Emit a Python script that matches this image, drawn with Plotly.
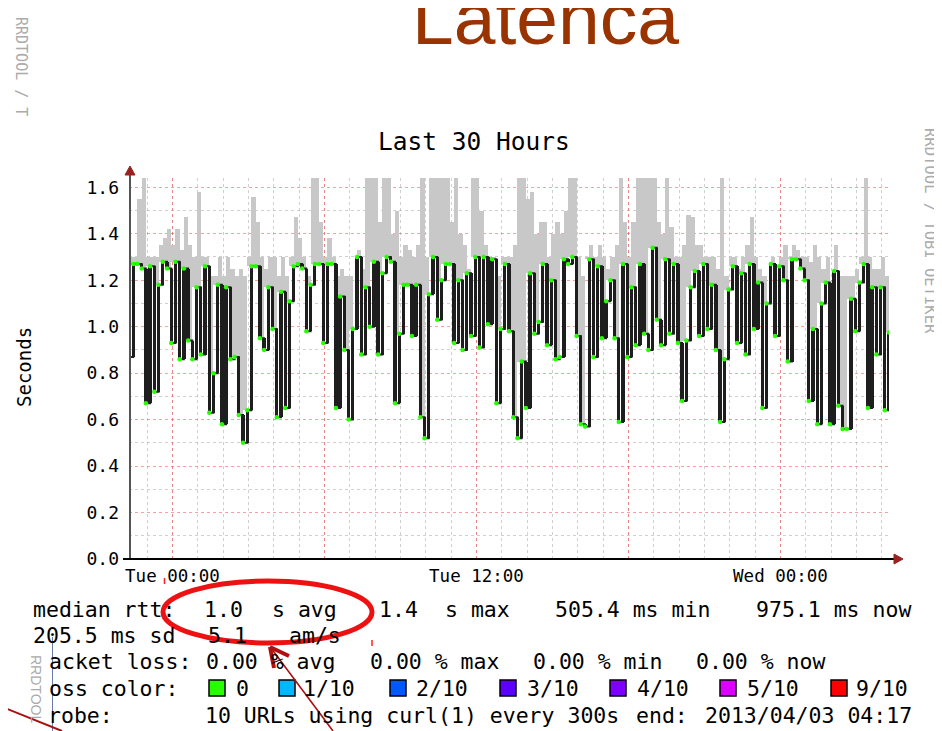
import datetime
import plotly.graph_objects as go

# ---------------- data ----------------
start_time = "2013-04-01 22:17"
step_minutes = 10

median_rtt = [
    0.87, 1.27, 1.27, 1.25, 0.67, 1.26, 0.72, 1.18, 1.28, 1.25,
    0.93, 1.28, 0.86, 1.25, 0.94, 0.86, 1.17, 0.88, 1.26, 0.63,
    0.80, 1.18, 0.58, 1.17, 0.86, 0.87, 0.62, 0.50, 0.64, 1.26,
    1.26, 0.95, 0.90, 1.17, 0.99, 0.61, 1.15, 0.65, 1.11, 1.26,
    1.27, 1.25, 0.98, 1.18, 1.27, 1.27, 0.93, 1.27, 1.27, 0.65,
    1.13, 0.90, 0.60, 0.99, 1.30, 0.88, 1.17, 1.00, 1.28, 0.88,
    1.23, 1.30, 1.28, 0.67, 0.97, 1.18, 1.18, 0.96, 1.18, 0.61,
    0.52, 1.14, 1.30, 1.03, 1.20, 1.27, 1.27, 0.93, 1.20, 0.90,
    1.23, 0.96, 1.30, 0.91, 1.30, 1.01, 1.29, 0.67, 0.99, 1.27,
    0.98, 0.61, 0.52, 0.85, 0.65, 1.23, 0.97, 1.02, 1.27, 0.92,
    1.20, 0.86, 0.87, 1.29, 1.27, 1.30, 0.96, 0.58, 0.57, 1.29,
    0.87, 1.26, 0.95, 1.11, 1.20, 0.95, 0.59, 1.27, 0.87, 1.17,
    0.92, 1.27, 0.97, 0.90, 1.34, 1.03, 0.92, 1.29, 0.97, 1.27,
    0.93, 0.68, 0.94, 1.17, 1.24, 0.96, 1.27, 0.99, 1.18, 0.90,
    0.59, 0.86, 1.16, 1.26, 0.93, 1.23, 0.88, 1.27, 0.99, 1.19,
    0.65, 1.10, 1.27, 0.96, 1.26, 1.20, 0.85, 1.29, 1.29, 1.25,
    1.20, 0.68, 0.99, 0.58, 1.10, 1.19, 0.58, 1.24, 0.66, 0.56,
    0.56, 1.12, 0.98, 1.19, 1.27, 0.65, 1.17, 0.88, 1.17, 0.64,
    0.975,
]

smoke_max = [
    1.30, 1.30, 1.55, 1.64, 1.30, 1.30, 1.30, 1.35, 1.38, 1.42,
    1.35, 1.42, 1.33, 1.47, 1.35, 1.30, 1.58, 1.30, 1.30, 1.22,
    1.22, 1.30, 1.22, 1.30, 1.25, 1.22, 1.25, 1.22, 1.30, 1.56,
    1.45, 1.30, 1.25, 1.30, 1.30, 1.22, 1.30, 1.22, 1.30, 1.47,
    1.38, 1.30, 1.22, 1.64, 1.64, 1.45, 1.30, 1.38, 1.30, 1.22,
    1.25, 1.22, 1.22, 1.22, 1.33, 1.25, 1.64, 1.64, 1.64, 1.45,
    1.64, 1.64, 1.40, 1.50, 1.30, 1.35, 1.33, 1.30, 1.35, 1.64,
    1.30, 1.64, 1.64, 1.64, 1.64, 1.64, 1.45, 1.64, 1.40, 1.35,
    1.25, 1.64, 1.64, 1.50, 1.35, 1.30, 1.30, 1.22, 1.30, 1.30,
    1.30, 1.35, 1.64, 1.64, 1.55, 1.58, 1.40, 1.45, 1.45, 1.30,
    1.40, 1.45, 1.40, 1.50, 1.64, 1.64, 1.30, 1.22, 1.30, 1.35,
    1.30, 1.35, 1.30, 1.25, 1.30, 1.35, 1.64, 1.45, 1.30, 1.45,
    1.64, 1.64, 1.64, 1.64, 1.64, 1.45, 1.40, 1.64, 1.43, 1.30,
    1.30, 1.35, 1.48, 1.47, 1.35, 1.35, 1.30, 1.30, 1.30, 1.25,
    1.64, 1.22, 1.30, 1.30, 1.25, 1.30, 1.35, 1.47, 1.30, 1.25,
    1.22, 1.22, 1.30, 1.25, 1.30, 1.35, 1.30, 1.35, 1.33, 1.30,
    1.30, 1.28, 1.35, 1.30, 1.25, 1.30, 1.22, 1.35, 1.22, 1.22,
    1.22, 1.22, 1.25, 1.30, 1.64, 1.30, 1.25, 1.25, 1.30, 1.22,
    1.10,
]

x_tick_values = ["2013-04-02 00:00", "2013-04-02 06:00", "2013-04-02 12:00",
                 "2013-04-02 18:00", "2013-04-03 00:00"]
x_tick_labels = ["Tue 00:00", "", "Tue 12:00", "", "Wed 00:00"]

loss_labels = ["0", "1/10", "2/10", "3/10", "4/10", "5/10", "9/10"]
loss_colors = ["#26ff00", "#00b8ff", "#0059ff", "#5e00ff", "#7e00ff", "#dd00ff", "#ff0000"]

stats_line1 = ["median rtt:", "1.0", "s avg", "1.4", "s max", "505.4 ms min", "975.1 ms now"]
stats_line2 = ["205.5 ms sd", "5.1", "am/s"]
loss_line = ["acket loss:", "0.00 % avg", "0.00 % max", "0.00 % min", "0.00 % now"]
probe_line = ["robe:", "10 URLs using curl(1) every 300s", "end:", "2013/04/03 04:17"]

# ---------------- geometry helpers ----------------
# the page adds an 8px body margin, so the figure is 8px smaller and all
# reference pixel positions are measured in page coordinates
OFF = 8
W, H = 942 - OFF, 731 - OFF
L, R, T, B = 129, 889, 178, 559   # plot area in page pixels


def PX(x):
    return (x - L) / (R - L)


def PY(y):
    return (B - y) / (B - T)


t0 = datetime.datetime.strptime(start_time, "%Y-%m-%d %H:%M")
times = [t0 + datetime.timedelta(minutes=step_minutes * i) for i in range(len(median_rtt))]
t_end = t0 + datetime.timedelta(hours=30)
step_ms = step_minutes * 60000

# smoke starts above the higher of the two neighbouring medians
smoke_base = [max(median_rtt[i], median_rtt[min(i + 1, len(median_rtt) - 1)])
              for i in range(len(median_rtt))]
smoke_height = [max(h - b, 0) for h, b in zip(smoke_max, smoke_base)]

# vertical black strokes joining consecutive medians
jump_lo = [min(a, b) for a, b in zip(median_rtt[:-1], median_rtt[1:])]
jump_hi = [max(a, b) for a, b in zip(median_rtt[:-1], median_rtt[1:])]
jump_len = [h - l for h, l in zip(jump_hi, jump_lo)]

MONO = "DejaVu Sans Mono"

fig = go.Figure()
fig.add_trace(go.Bar(
    x=times, y=smoke_height, base=smoke_base, width=step_ms, offset=0,
    marker=dict(color="#c8c8c8", line=dict(width=0)), hoverinfo="skip", showlegend=False,
))
fig.add_trace(go.Bar(
    x=times[1:], y=jump_len, base=jump_lo, width=step_ms * 0.8, offset=-step_ms * 0.4,
    marker=dict(color="#1e1e1e", line=dict(width=0)), hoverinfo="skip", showlegend=False,
))
fig.add_trace(go.Scatter(
    x=times, y=median_rtt, mode="lines+markers", line=dict(color="#1e1e1e", width=2, shape="hv"),
    marker=dict(color="#26ff00", size=4.5, line=dict(width=0)), showlegend=False,
))


def txt(s, x, y, size=21.5, color="#000", xanchor="left", yanchor="middle",
        family=MONO, angle=0):
    return dict(text=s, x=PX(x), y=PY(y), xref="paper", yref="paper", showarrow=False,
                xanchor=xanchor, yanchor=yanchor, textangle=angle, borderpad=0, borderwidth=0,
                font=dict(family=family, size=size, color=color))


ann = []
ann.append(txt("Latenca", 545, 60, size=75, color="#993300", xanchor="center",
               yanchor="bottom", family="Liberation Sans"))
ann.append(txt("Last 30 Hours", 474, 142, size=24.5, xanchor="center"))
ann.append(txt("Seconds", 24, 367, size=19, xanchor="center", angle=-90))
ann.append(txt("RRDTOOL / TOBI OETIKER", 930, 231, size=15.5, color="#ababab",
               xanchor="center", angle=90))
ann.append(txt("RRDTOOL / T", 21, 66, size=15, color="#ababab", xanchor="center", angle=90))
ann.append(txt("RRDTOOL", 36, 689, size=14, color="#aaaaaa", xanchor="center", angle=90,
               family="Liberation Sans"))
ann.append(txt("w", -3, 501, size=16, xanchor="center"))
ann.append(txt("0", -4, 578, size=16, xanchor="center"))
ann.append(txt("7", -4, 601, size=16, xanchor="center"))

for s, x in zip(stats_line1, [33, 204, 272, 379, 445, 555, 756]):
    ann.append(txt(s, x, 609))
for s, x in zip(stats_line2, [33, 208, 289]):
    ann.append(txt(s, x, 635))
for s, x in zip(loss_line, [49, 206, 370, 533, 696]):
    ann.append(txt(s, x, 661))
ann.append(txt("oss color:", 49, 688))
box_x = [209, 279, 390, 500, 610, 720, 831]
lab_x = [236, 303, 416, 527, 637, 747, 856]
for s, x in zip(loss_labels, lab_x):
    ann.append(txt(s, x, 688))
for s, x in zip(probe_line, [48, 205, 636, 705]):
    ann.append(txt(s, x, 715))

shapes = []
for c, x in zip(loss_colors, box_x):
    shapes.append(dict(type="rect", xref="paper", yref="paper", x0=PX(x), x1=PX(x + 16),
                       y0=PY(696), y1=PY(680), fillcolor=c, line=dict(color="#000", width=1.5)))

# axis lines and arrows
shapes.append(dict(type="line", xref="paper", yref="paper", x0=PX(130), x1=PX(130),
                   y0=PY(559), y1=PY(172), line=dict(color="#555", width=2)))
shapes.append(dict(type="line", xref="paper", yref="paper", x0=PX(123), x1=PX(895),
                   y0=PY(559), y1=PY(559), line=dict(color="#000", width=2)))
shapes.append(dict(type="path", xref="paper", yref="paper",
                   path=f"M {PX(894)},{PY(554)} L {PX(903)},{PY(559)} L {PX(894)},{PY(564)} Z",
                   fillcolor="#9b2020", line=dict(color="#9b2020", width=1)))
shapes.append(dict(type="path", xref="paper", yref="paper",
                   path=f"M {PX(125)},{PY(175)} L {PX(130)},{PY(166)} L {PX(135)},{PY(175)} Z",
                   fillcolor="#9b2020", line=dict(color="#9b2020", width=1)))

# slide decorations
blue = "#6a7aa6"
shapes.append(dict(type="line", xref="paper", yref="paper", x0=PX(3.5), x1=PX(3.5),
                   y0=PY(117), y1=PY(632), line=dict(color=blue, width=1)))
shapes.append(dict(type="line", xref="paper", yref="paper", x0=PX(0), x1=PX(36),
                   y0=PY(4.5), y1=PY(4.5), line=dict(color=blue, width=1)))
shapes.append(dict(type="line", xref="paper", yref="paper", x0=PX(0), x1=PX(4),
                   y0=PY(632), y1=PY(632), line=dict(color="#999", width=1)))
shapes.append(dict(type="line", xref="paper", yref="paper", x0=PX(52.5), x1=PX(52.5),
                   y0=PY(637), y1=PY(731), line=dict(color=blue, width=1)))

# red marks
shapes.append(dict(type="circle", xref="paper", yref="paper", x0=PX(163), x1=PX(372),
                   y0=PY(643), y1=PY(581), line=dict(color="#ee1111", width=5)))
shapes.append(dict(type="line", xref="paper", yref="paper", x0=PX(164.5), x1=PX(164.5),
                   y0=PY(578), y1=PY(584), line=dict(color="#ff2020", width=1.5)))
shapes.append(dict(type="line", xref="paper", yref="paper", x0=PX(372), x1=PX(372),
                   y0=PY(640), y1=PY(646), line=dict(color="#ff2020", width=1.5)))
shapes.append(dict(type="line", xref="paper", yref="paper", x0=PX(0), x1=PX(62),
                   y0=PY(706), y1=PY(731), line=dict(color="#aa1010", width=2)))
shapes.append(dict(type="line", xref="paper", yref="paper", x0=PX(333), x1=PX(271),
                   y0=PY(731), y1=PY(648), line=dict(color="#aa1010", width=1.6)))
shapes.append(dict(type="line", xref="paper", yref="paper", x0=PX(270), x1=PX(274),
                   y0=PY(647), y1=PY(668), line=dict(color="#b01010", width=4)))
shapes.append(dict(type="line", xref="paper", yref="paper", x0=PX(270), x1=PX(289),
                   y0=PY(647), y1=PY(656), line=dict(color="#b01010", width=4)))

fig.update_layout(
    width=W, height=H,
    margin=dict(l=L - OFF, r=W - (R - OFF), t=T - OFF, b=H - (B - OFF), pad=0),
    paper_bgcolor="#ffffff", plot_bgcolor="#ffffff",
    showlegend=False, bargap=0, barmode="overlay",
    annotations=ann, shapes=shapes,
    xaxis=dict(
        type="date", range=[t0, t_end], tickmode="array", tickvals=x_tick_values,
        ticktext=x_tick_labels, ticks="", showline=False, zeroline=False,
        showgrid=True, gridcolor="rgba(255,60,60,0.5)", griddash="dot", gridwidth=1,
        tickfont=dict(family=MONO, size=17.5, color="#000"), ticklabelstandoff=4,
        minor=dict(dtick=3600000, tick0="2013-04-01 23:00", showgrid=True,
                   gridcolor="rgba(150,150,150,0.45)", griddash="dot", gridwidth=1),
    ),
    yaxis=dict(
        range=[0, 1.64], dtick=0.2, tick0=0, tickformat=".1f", ticks="", showline=False,
        zeroline=False, showgrid=True, gridcolor="rgba(255,60,60,0.5)", griddash="dot",
        gridwidth=1, tickfont=dict(family=MONO, size=18, color="#000"), ticklabelstandoff=9,
        minor=dict(dtick=0.1, showgrid=True, gridcolor="rgba(150,150,150,0.45)",
                   griddash="dot", gridwidth=1),
    ),
)

fig.write_html("out.html")
